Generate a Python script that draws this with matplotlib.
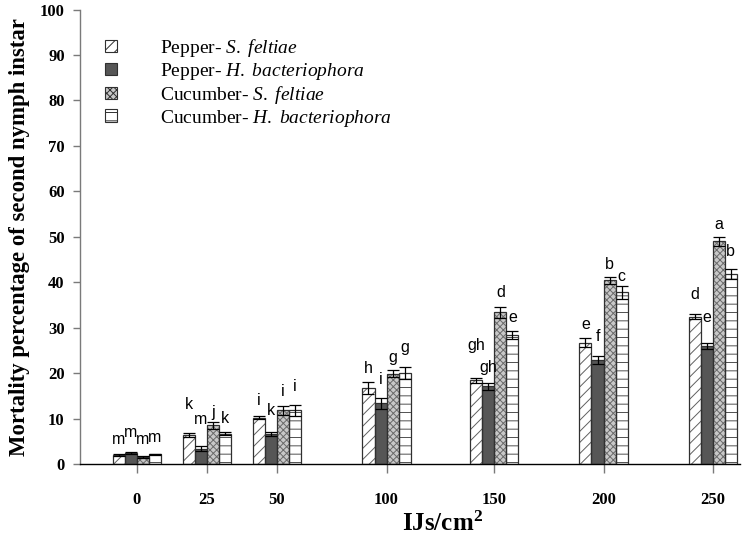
import matplotlib
matplotlib.use("Agg")
import matplotlib.pyplot as plt
from matplotlib.patches import Patch
import numpy as np

plt.rcParams['font.family'] = ['Liberation Serif', 'DejaVu Serif']
plt.rcParams['mathtext.fontset'] = 'custom'
plt.rcParams['mathtext.rm'] = 'Liberation Serif'
plt.rcParams['mathtext.it'] = 'Liberation Serif:italic'
plt.rcParams['mathtext.bf'] = 'Liberation Serif:bold'
plt.rcParams['hatch.linewidth'] = 0.7

# ---- data ----
doses = ['0', '25', '50', '100', '150', '200', '250']
dose_pos = [0, 1, 2, 3.57, 5.11, 6.67, 8.23]   # category placement on the x axis
series = ['Pepper- $\\mathit{S.\\ feltiae}$',
          'Pepper- $\\mathit{H.\\ bacteriophora}$',
          'Cucumber- $\\mathit{S.\\ feltiae}$',
          'Cucumber- $\\mathit{H.\\ bacteriophora}$']
pepper_sf = [2.0, 6.4, 10.2, 16.7, 18.4, 26.7, 32.4]
pepper_hb = [2.4, 3.4, 6.6, 13.4, 17.1, 22.9, 26.0]
cucumber_sf = [1.6, 8.5, 11.8, 19.9, 33.4, 40.4, 49.0]
cucumber_hb = [2.1, 6.7, 11.8, 20.1, 28.3, 37.8, 41.8]
err_pepper_sf = [0.2, 0.5, 0.4, 1.3, 0.6, 1.0, 0.5]
err_pepper_hb = [0.3, 0.5, 0.5, 1.2, 0.8, 0.9, 0.7]
err_cucumber_sf = [0.2, 0.8, 1.0, 0.7, 1.2, 0.8, 1.0]
err_cucumber_hb = [0.2, 0.3, 1.2, 1.3, 0.9, 1.4, 1.2]
letters_pepper_sf = ['m', 'k', 'i', 'h', 'gh', 'e', 'd']
letters_pepper_hb = ['m', 'm', 'k', 'i', 'gh', 'f', 'e']
letters_cucumber_sf = ['m', 'j', 'i', 'g', 'd', 'b', 'a']
letters_cucumber_hb = ['m', 'k', 'i', 'g', 'e', 'c', 'b']
letter_y_pepper_sf = [5.3, 13.0, 13.9, 21.0, 26.1, 30.8, 37.4]
letter_y_pepper_hb = [7.0, 9.9, 11.8, 18.6, 21.2, 28.1, 32.2]
letter_y_cucumber_sf = [5.3, 11.4, 15.9, 23.5, 37.8, 44.0, 52.6]
letter_y_cucumber_hb = [5.9, 10.0, 17.0, 25.6, 32.2, 41.2, 46.8]

values = [pepper_sf, pepper_hb, cucumber_sf, cucumber_hb]
errors = [err_pepper_sf, err_pepper_hb, err_cucumber_sf, err_cucumber_hb]
letters = [letters_pepper_sf, letters_pepper_hb, letters_cucumber_sf, letters_cucumber_hb]
letter_ys = [letter_y_pepper_sf, letter_y_pepper_hb, letter_y_cucumber_sf, letter_y_cucumber_hb]

# ---- styles ----
styles = [
    dict(face='white', hatch='///', hcol='#606060'),
    dict(face='#565656', hatch=None, hcol='#565656'),
    dict(face='#c8c8c8', hatch='xxxxx', hcol='#6a6a6a'),
    dict(face='white', hatch='--', hcol='#505050'),
]

fig = plt.figure(figsize=(7.47, 5.46), dpi=100)
ax = fig.add_axes([80/747, 1 - 464/546, 660/747, (464 - 9.5)/546])

x = np.array(dose_pos)
w = 0.172
offsets = np.array([-1.5, -0.5, 0.5, 1.5]) * w

for i in range(4):
    st = styles[i]
    xi = x + offsets[i]
    ax.bar(xi, values[i], width=w, color=st['face'], hatch=st['hatch'],
           edgecolor=st['hcol'], linewidth=0, zorder=2)
    ax.bar(xi, values[i], width=w, fill=False, edgecolor='#303030',
           linewidth=0.9, zorder=3)
    ax.errorbar(xi, values[i], yerr=errors[i], fmt='none', ecolor='black',
                elinewidth=0.9, capsize=4.2, capthick=0.9, zorder=4)
    for xx, lab, ly in zip(xi, letters[i], letter_ys[i]):
        ax.text(xx, ly, lab, ha='center', va='center', fontsize=11.5,
                family=['Liberation Sans', 'DejaVu Sans'], zorder=5)

ax.set_xlim(-0.81, 8.62)
ax.set_ylim(0, 100)
ax.set_yticks(np.arange(0, 101, 10))
ax.set_xticks(x)
ax.set_xticklabels(doses)
for s in ['top', 'right']:
    ax.spines[s].set_visible(False)
ax.spines['left'].set_color('#7a7a7a')
ax.spines['bottom'].set_color('black')
ax.spines['left'].set_linewidth(1.0)
ax.spines['bottom'].set_linewidth(1.0)
ax.tick_params(axis='y', direction='out', length=5, width=1, color='#7a7a7a',
               pad=6, labelsize=12)
ax.tick_params(axis='x', direction='out', length=6.5, width=1, color='#7a7a7a',
               pad=14, labelsize=12)
for lab in ax.get_xticklabels() + ax.get_yticklabels():
    lab.set_fontweight('bold')

ax.set_ylabel('Mortality percentage of second nymph instar', fontsize=16.4,
              fontweight='bold', labelpad=7)
ax.set_xlabel('IJs/cm$^\\mathbf{2}$', fontsize=18, fontweight='bold')
ax.xaxis.set_label_coords(0.55, -0.104)

handles = []
for i in range(4):
    st = styles[i]
    handles.append(Patch(facecolor=st['face'], hatch=st['hatch'],
                         edgecolor='#303030', linewidth=0.8, label=series[i]))
leg = ax.legend(handles=handles, loc='upper left', bbox_to_anchor=(0.038, 0.94),
                frameon=False, fontsize=14, handlelength=0.62, handleheight=0.62,
                handletextpad=2.2, labelspacing=0.1, borderpad=0, borderaxespad=0)

fig.savefig('out.png', dpi=100)
